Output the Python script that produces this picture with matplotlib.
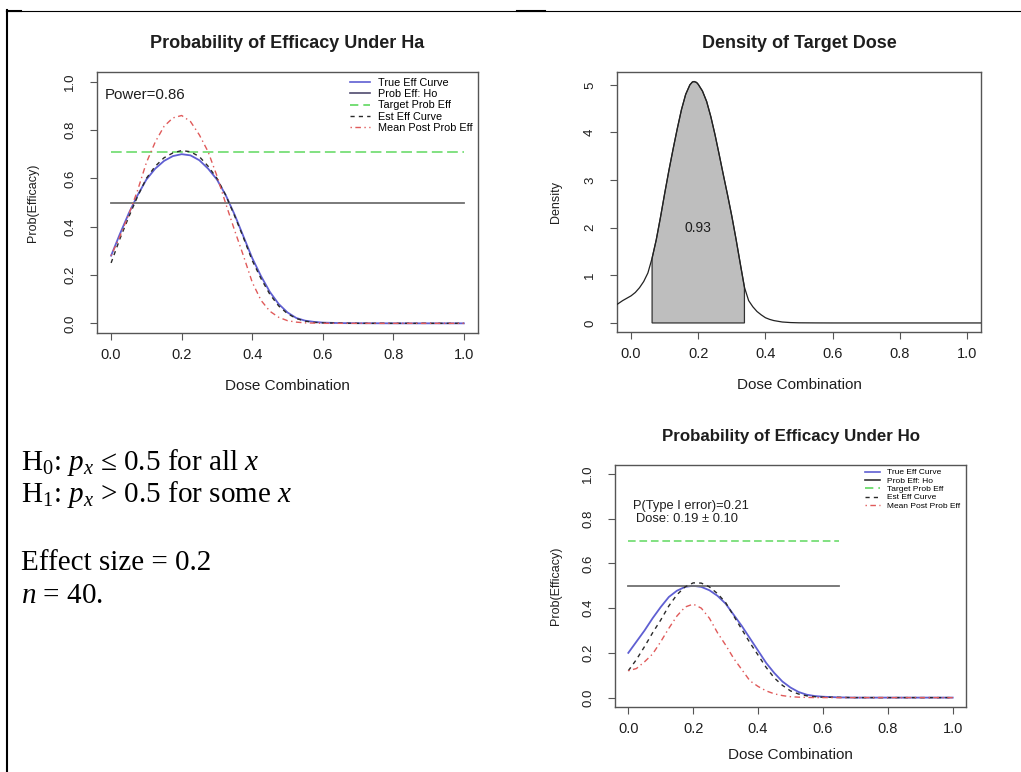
import numpy as np
import matplotlib
matplotlib.use("Agg")
import matplotlib.pyplot as plt
from matplotlib.lines import Line2D

# ---------------- data ----------------
dose = [0.0, 0.025, 0.05, 0.075, 0.1, 0.125, 0.15, 0.175, 0.2, 0.225, 0.25,
        0.275, 0.3, 0.325, 0.35, 0.375, 0.4, 0.425, 0.45, 0.475, 0.5, 0.525,
        0.55, 0.575, 0.6, 0.65, 0.7, 0.8, 0.9, 1.0]

ha_true = [0.28, 0.37, 0.455, 0.53, 0.595, 0.64, 0.672, 0.692, 0.70, 0.695, 0.675,
           0.64, 0.595, 0.53, 0.45, 0.36, 0.27, 0.195, 0.13, 0.08, 0.045, 0.022,
           0.011, 0.006, 0.003, 0.001, 0.0005, 0.0, 0.0, 0.0]
ha_est = [0.25, 0.35, 0.44, 0.525, 0.60, 0.65, 0.685, 0.705, 0.715, 0.71, 0.69,
          0.65, 0.60, 0.53, 0.445, 0.355, 0.26, 0.185, 0.12, 0.072, 0.04, 0.02,
          0.009, 0.004, 0.002, 0.001, 0.0, 0.0, 0.0, 0.0]
ha_post = [0.28, 0.36, 0.45, 0.55, 0.665, 0.75, 0.815, 0.85, 0.86, 0.835, 0.78,
           0.71, 0.61, 0.495, 0.385, 0.28, 0.17, 0.095, 0.05, 0.025, 0.011, 0.005,
           0.002, 0.001, 0.0, 0.0, 0.0, 0.0, 0.0, 0.0]
ha_target = 0.71
null_prob = 0.5

ho_true = [0.20, 0.25, 0.30, 0.355, 0.405, 0.45, 0.478, 0.495, 0.50, 0.495, 0.48,
           0.455, 0.42, 0.37, 0.32, 0.265, 0.21, 0.155, 0.11, 0.072, 0.045, 0.025,
           0.013, 0.007, 0.004, 0.001, 0.0, 0.0, 0.0, 0.0]
ho_est = [0.12, 0.17, 0.228, 0.29, 0.347, 0.41, 0.46, 0.495, 0.513, 0.512, 0.495,
          0.465, 0.425, 0.365, 0.305, 0.245, 0.19, 0.135, 0.088, 0.055, 0.03, 0.016,
          0.008, 0.004, 0.002, 0.001, 0.0, 0.0, 0.0, 0.0]
ho_post = [0.12, 0.13, 0.16, 0.195, 0.25, 0.31, 0.365, 0.405, 0.418, 0.40, 0.355,
           0.29, 0.235, 0.175, 0.125, 0.075, 0.05, 0.03, 0.017, 0.009, 0.004, 0.002,
           0.001, 0.0, 0.0, 0.0, 0.0, 0.0, 0.0, 0.0]
ho_target = 0.70
ho_line_end = 0.65

dens_x = [-0.05, -0.0375, -0.025, -0.0125, 0.0, 0.0125, 0.025, 0.0375, 0.05, 0.0625,
          0.075, 0.0875, 0.1, 0.1125, 0.125, 0.1375, 0.15, 0.1625, 0.175, 0.1825,
          0.1875, 0.195, 0.2, 0.2125, 0.225, 0.2375, 0.25, 0.2625, 0.275, 0.2875,
          0.3, 0.3125, 0.325, 0.3375, 0.35, 0.3625, 0.375, 0.3875, 0.4, 0.4125,
          0.425, 0.45, 0.475, 0.5, 0.55, 0.6, 0.7, 0.8, 0.9, 1.0, 1.05]
dens_y = [0.35, 0.41, 0.47, 0.52, 0.57, 0.64, 0.74, 0.87, 1.05, 1.36,
          1.75, 2.22, 2.72, 3.2, 3.65, 4.08, 4.48, 4.8, 5.0, 5.06,
          5.07, 5.05, 5.01, 4.87, 4.65, 4.33, 3.95, 3.53, 3.1, 2.68,
          2.24, 1.76, 1.25, 0.75, 0.47, 0.34, 0.24, 0.17, 0.11, 0.075,
          0.05, 0.02, 0.008, 0.003, 0.001, 0.0, 0.0, 0.0, 0.0, 0.0, 0.0]
shade_lo, shade_hi = 0.0625, 0.3375
shade_label = "0.93"

x_ticks = [0.0, 0.2, 0.4, 0.6, 0.8, 1.0]
p_ticks = [0.0, 0.2, 0.4, 0.6, 0.8, 1.0]
d_ticks = [0, 1, 2, 3, 4, 5]

legend_labels = ["True Eff Curve", "Prob Eff: Ho", "Target Prob Eff",
                 "Est Eff Curve", "Mean Post Prob Eff"]

# ---------------- style ----------------
plt.rcParams['font.family'] = ['Liberation Sans', 'DejaVu Sans']
plt.rcParams['mathtext.fontset'] = 'custom'
plt.rcParams['mathtext.rm'] = 'Liberation Serif'
plt.rcParams['mathtext.it'] = 'Liberation Serif:italic'

BLUE = "#5f5fd2"
GRAY = "#707070"
GREEN = "#5fd85f"
DARK = "#2a2a2a"
RED = "#e05a5a"
SPINE = "#555555"
TXT = "#1e1e1e"

fig = plt.figure(figsize=(10.21, 7.72), dpi=100)
W, H = 1021.0, 772.0


def add_axes_px(x0, y0, x1, y1):
    return fig.add_axes([x0 / W, 1 - y1 / H, (x1 - x0) / W, (y1 - y0) / H])


def style_axes(ax, xt, yt, yfmt, xlabel, ylabel, title, tsize, xl_y, yl_x, t_y):
    for s in ax.spines.values():
        s.set_color(SPINE)
        s.set_linewidth(1.0)
    ax.set_xticks(xt)
    ax.set_xticklabels([f"{v:.1f}" for v in xt])
    ax.set_yticks(yt)
    ax.set_yticklabels([yfmt(v) for v in yt])
    ax.tick_params(axis='both', direction='out', length=5, width=0.8, color=SPINE,
                   labelcolor=TXT)
    ax.tick_params(axis='x', labelsize=10.5, pad=6)
    ax.tick_params(axis='y', labelsize=9.5, pad=10, labelrotation=90)
    for lab in ax.get_yticklabels():
        lab.set_va('center')
    ax.set_xlabel(xlabel, fontsize=11, color=TXT, va='center')
    ax.xaxis.set_label_coords(0.5, xl_y)
    ax.set_ylabel(ylabel, fontsize=9, color=TXT, va='center')
    ax.yaxis.set_label_coords(yl_x, 0.5)
    ax.set_title(title, fontsize=tsize, fontweight='bold', color=TXT, y=t_y,
                 va='center', pad=0)


def legend_handles(hcol):
    return [Line2D([], [], color=BLUE, lw=1.2),
            Line2D([], [], color=hcol, lw=1.2),
            Line2D([], [], color=GREEN, lw=1.2, dashes=(5, 3)),
            Line2D([], [], color=DARK, lw=1.0, dashes=(3, 3)),
            Line2D([], [], color=RED, lw=1.0, dashes=(1, 2.5, 4, 2.5))]


# ---------------- panel 1: Ha ----------------
ax1 = add_axes_px(97, 72, 478, 333)
ax1.set_xlim(-0.04, 1.04)
ax1.set_ylim(-0.04, 1.04)
ax1.plot(dose, ha_true, color=BLUE, lw=1.3)
ax1.plot([0, 1], [null_prob, null_prob], color=GRAY, lw=1.3)
ax1.plot([0, 1], [ha_target, ha_target], color=GREEN, lw=1.1, dashes=(7, 3))
ax1.plot(dose, ha_est, color=DARK, lw=1.0, dashes=(3, 3))
ax1.plot(dose, ha_post, color=RED, lw=1.0, dashes=(1, 2.5, 4, 2.5))
ax1.text(-0.018, 0.945, "Power=0.86", fontsize=10.8, color=TXT, va='center', ha='left')
style_axes(ax1, x_ticks, p_ticks, lambda v: f"{v:.1f}", "Dose Combination",
           "Prob(Efficacy)", "Probability of Efficacy Under Ha", 13,
           -0.203, -0.168, 1 + 29 / 261)
ax1.legend(handles=legend_handles("#4f4a6e"), labels=legend_labels, loc='upper left',
           bbox_to_anchor=(0.664, 0.978), frameon=False, fontsize=7.8,
           handlelength=1.85, handletextpad=0.75, labelspacing=0.12,
           borderpad=0, borderaxespad=0)

# ---------------- panel 2: density ----------------
ax2 = add_axes_px(617, 72, 981, 332)
ax2.set_xlim(-0.042, 1.042)
ax2.set_ylim(-0.19, 5.27)
dx = np.array(dens_x)
dy = np.array(dens_y)
m = (dx >= shade_lo) & (dx <= shade_hi)
px = np.concatenate([[dx[m][0]], dx[m], [dx[m][-1]]])
py = np.concatenate([[0.0], dy[m], [0.0]])
ax2.fill(px, py, facecolor="#bebebe", edgecolor="#333333", lw=0.9, zorder=2)
ax2.plot(dx, dy, color="#222222", lw=0.9, zorder=3)
ax2.text(0.2, 2.0, shade_label, fontsize=10, color=TXT, ha='center', va='center', zorder=4)
style_axes(ax2, x_ticks, d_ticks, lambda v: f"{v:d}", "Dose Combination",
           "Density", "Density of Target Dose", 13,
           -0.204, -0.168, 1 + 29 / 260)

# ---------------- panel 3: Ho ----------------
ax3 = add_axes_px(615, 465, 966, 707)
ax3.set_xlim(-0.041, 1.041)
ax3.set_ylim(-0.042, 1.040)
ax3.plot(dose, ho_true, color=BLUE, lw=1.3)
ax3.plot([0, ho_line_end], [null_prob, null_prob], color=GRAY, lw=1.3)
ax3.plot([0, ho_line_end], [ho_target, ho_target], color=GREEN, lw=1.1, dashes=(5, 2.5))
ax3.plot(dose, ho_est, color=DARK, lw=1.0, dashes=(3, 3))
ax3.plot(dose, ho_post, color=RED, lw=1.0, dashes=(1, 2.5, 4, 2.5))
ax3.text(0.015, 0.856, "P(Type I error)=0.21", fontsize=9.3, color=TXT, va='center', ha='left')
ax3.text(0.025, 0.797, "Dose: 0.19 \u00b1 0.10", fontsize=9.3, color=TXT, va='center', ha='left')
style_axes(ax3, x_ticks, p_ticks, lambda v: f"{v:.1f}", "Dose Combination",
           "Prob(Efficacy)", "Probability of Efficacy Under Ho", 12.2,
           -0.198, -0.168, 1 + 28 / 242)
ax3.legend(handles=legend_handles("#333333"), labels=legend_labels, loc='upper left',
           bbox_to_anchor=(0.712, 0.985), frameon=False, fontsize=6,
           handlelength=1.8, handletextpad=0.8, labelspacing=0.06,
           borderpad=0, borderaxespad=0)

# ---------------- text panel ----------------
serif = ['Liberation Serif', 'DejaVu Serif']
lines = [(470, "H$_0$: $p_x$ \u2264 0.5 for all $x$"),
         (502, "H$_1$: $p_x$ > 0.5 for some $x$"),
         (570, "Effect size = 0.2"),
         (603, "$n$ = 40.")]
for yb, s in lines:
    fig.text(21 / W, 1 - yb / H, s, fontsize=21, family=serif, color='black',
             ha='left', va='baseline')

# ---------------- page borders ----------------
fig.add_artist(Line2D([6 / W, 1.0], [1 - 10.5 / H, 1 - 10.5 / H],
                      transform=fig.transFigure, color='black', lw=0.8))
fig.add_artist(Line2D([7 / W, 7 / W], [0, 1 - 10 / H],
                      transform=fig.transFigure, color='black', lw=1.5))
fig.add_artist(Line2D([517 / W, 545 / W], [1 - 11.3 / H, 1 - 11.3 / H],
                      transform=fig.transFigure, color='black', lw=1.5))
fig.add_artist(Line2D([7 / W, 21 / W], [1 - 11.3 / H, 1 - 11.3 / H],
                      transform=fig.transFigure, color='black', lw=1.5))

fig.savefig("out.png", dpi=100)
